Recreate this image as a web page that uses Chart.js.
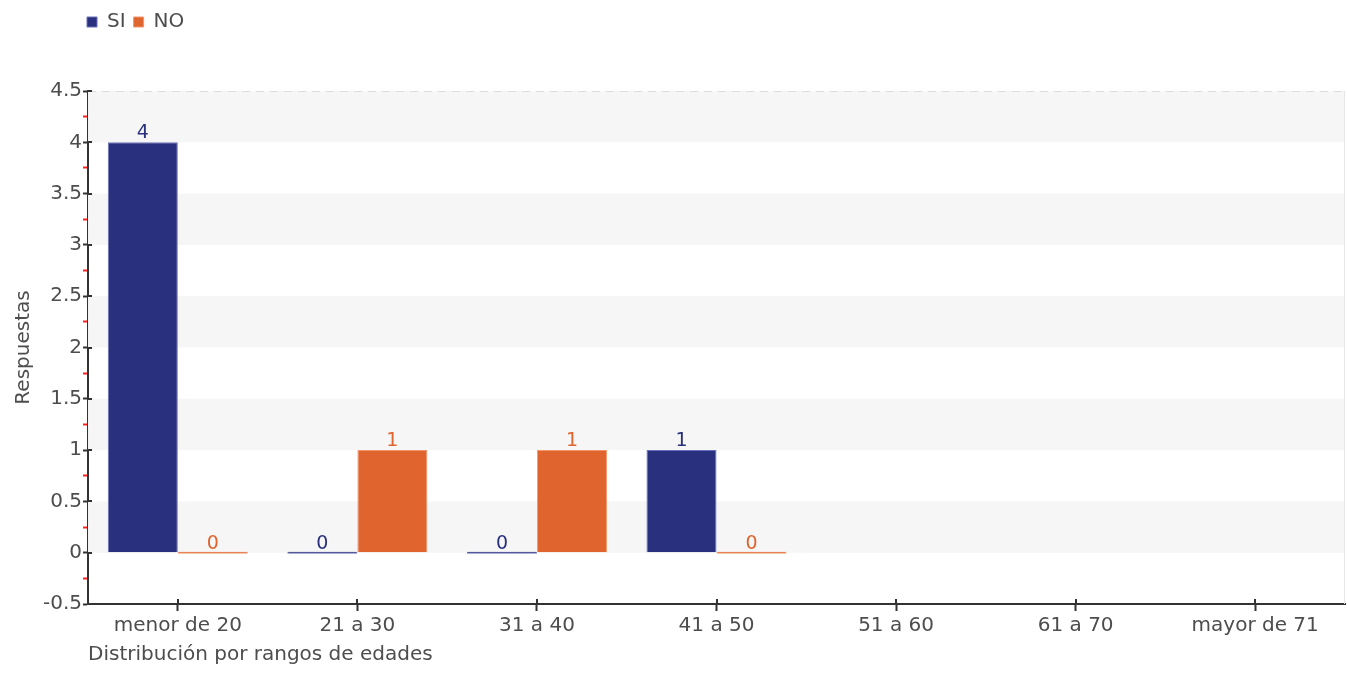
<!DOCTYPE html>
<html>
<head>
<meta charset="utf-8">
<script src="https://cdn.jsdelivr.net/npm/chart.js@4/dist/chart.umd.min.js"></script>
<style>
  body { margin: 0; background: #fff; }
  #wrap { width: 1347px; height: 675px; }
</style>
</head>
<body>
<div id="wrap"><canvas id="chart" width="1347" height="675"></canvas></div>
<script>
var categories = ['menor de 20', '21 a 30', '31 a 40', '41 a 50', '51 a 60', '61 a 70', 'mayor de 71'];
var siValues = [4, 0, 0, 1, null, null, null];
var noValues = [0, 1, 1, 0, null, null, null];
var seriesNames = ['SI', 'NO'];

var FONT = 'DejaVu Sans';
var TEXT = '#4d4d4d';

function isMajor(v) {
    return Math.abs(v * 2 - Math.round(v * 2)) < 1e-6;
}

// grey/white bands behind the bars, dashed top line, inner tick halves
var bandsPlugin = {
    id: 'bands',
    beforeDatasetsDraw: function (chart) {
        var ctx = chart.ctx, y = chart.scales.y, x = chart.scales.x, area = chart.chartArea;
        ctx.save();
        for (var v = 0; v < 4.5; v += 1) {
            var top = y.getPixelForValue(v + 0.5);
            var bot = y.getPixelForValue(v);
            ctx.fillStyle = '#f6f6f6';
            ctx.fillRect(area.left, top, area.right - area.left, bot - top);
        }
        ctx.strokeStyle = '#dcdcdc';
        ctx.lineWidth = 1;
        ctx.setLineDash([8, 6]);
        ctx.beginPath();
        ctx.moveTo(area.left, area.top + 0.5);
        ctx.lineTo(area.right, area.top + 0.5);
        ctx.stroke();
        ctx.setLineDash([]);
        ctx.strokeStyle = '#e6e6e6';
        ctx.beginPath();
        ctx.moveTo(area.right - 0.5, area.top);
        ctx.lineTo(area.right - 0.5, area.bottom);
        ctx.stroke();

        // inner halves of the major ticks
        ctx.strokeStyle = '#333';
        ctx.lineWidth = 2;
        ctx.beginPath();
        y.ticks.forEach(function (t) {
            if (!isMajor(t.value)) return;
            var py = Math.round(y.getPixelForValue(t.value));
            ctx.moveTo(area.left, py);
            ctx.lineTo(area.left + 4, py);
        });
        x.ticks.forEach(function (t, i) {
            var px = Math.round(x.getPixelForTick(i));
            ctx.moveTo(px, area.bottom);
            ctx.lineTo(px, area.bottom - 5);
        });
        ctx.stroke();
        ctx.restore();
    }
};

// value labels above every bar
var valueLabels = {
    id: 'valueLabels',
    afterDatasetsDraw: function (chart) {
        var ctx = chart.ctx;
        ctx.save();
        ctx.font = '19px "' + FONT + '"';
        ctx.textAlign = 'center';
        ctx.textBaseline = 'bottom';
        chart.data.datasets.forEach(function (ds, i) {
            var meta = chart.getDatasetMeta(i);
            meta.data.forEach(function (bar, j) {
                if (ds.data[j] === null) return;
                ctx.fillStyle = ds.labelColor;
                ctx.fillText(ds.data[j], bar.x, bar.y);
            });
        });
        ctx.restore();
    }
};

// more room under the legend, and legend lined up with the plot
var legendSpace = {
    id: 'legendSpace',
    beforeInit: function (chart) {
        var fit = chart.legend.fit;
        chart.legend.fit = function () {
            fit.bind(chart.legend)();
            this.height += 49;
        };
    },
    afterLayout: function (chart) {
        chart.legend.left = chart.chartArea.left - 9;
    }
};

new Chart(document.getElementById('chart'), {
    type: 'bar',
    data: {
        labels: categories,
        datasets: [{
            label: seriesNames[0],
            data: siValues,
            backgroundColor: '#29307e',
            borderColor: '#6a70b8',
            borderWidth: 1,
            labelColor: '#29307e',
            minBarLength: 2
        }, {
            label: seriesNames[1],
            data: noValues,
            backgroundColor: '#e0642e',
            borderColor: '#f0986c',
            borderWidth: 1,
            labelColor: '#e0642e',
            minBarLength: 2
        }]
    },
    options: {
        responsive: false,
        animation: false,
        layout: { padding: { left: 12, right: 2, top: 4, bottom: 8 } },
        datasets: { bar: { categoryPercentage: 0.78, barPercentage: 1.0 } },
        plugins: {
            legend: {
                position: 'top',
                align: 'start',
                labels: {
                    boxWidth: 10,
                    boxHeight: 10,
                    padding: 8,
                    color: TEXT,
                    font: { family: FONT, size: 20 }
                }
            },
            tooltip: { enabled: false }
        },
        scales: {
            x: {
                grid: { offset: false, drawOnChartArea: false, tickLength: 7, tickColor: '#333', tickWidth: 2 },
                border: { color: '#333', width: 2 },
                ticks: { color: TEXT, font: { family: FONT, size: 20 }, padding: 3 },
                title: {
                    display: true,
                    text: 'Distribución por rangos de edades',
                    align: 'start',
                    color: TEXT,
                    font: { family: FONT, size: 20 },
                    padding: { top: 2, bottom: 0 }
                }
            },
            y: {
                min: -0.5,
                max: 4.5,
                ticks: {
                    stepSize: 0.25,
                    autoSkip: false,
                    color: TEXT,
                    font: { family: FONT, size: 20 },
                    padding: 1,
                    callback: function (v) { return isMajor(v) ? v : ''; }
                },
                grid: {
                    drawOnChartArea: false,
                    tickLength: 5,
                    tickWidth: 2,
                    tickColor: function (c) { return c.tick && isMajor(c.tick.value) ? '#333' : '#ff2020'; }
                },
                border: { color: '#333', width: 2 },
                title: {
                    display: true,
                    text: 'Respuestas',
                    color: TEXT,
                    font: { family: FONT, size: 20 },
                    padding: { top: 0, bottom: 6 }
                }
            }
        }
    },
    plugins: [bandsPlugin, valueLabels, legendSpace]
});
</script>
</body>
</html>
